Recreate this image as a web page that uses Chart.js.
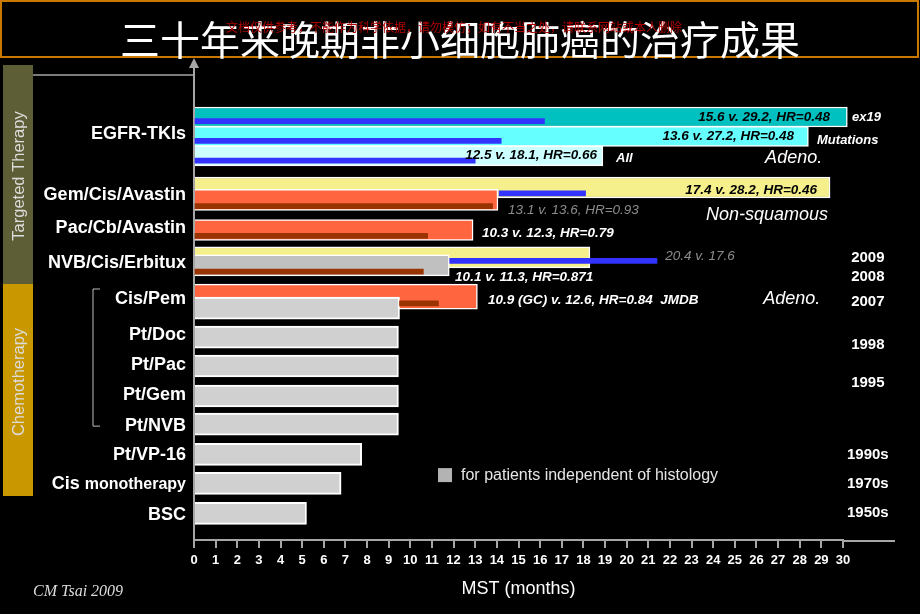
<!DOCTYPE html>
<html>
<head>
<meta charset="utf-8">
<script src="https://cdn.jsdelivr.net/npm/chart.js@4.4.0/dist/chart.umd.min.js"></script>
<style>
  html, body { margin: 0; padding: 0; background: #000; }
</style>
</head>
<body>
<canvas id="mst" width="920" height="614"></canvas>
<script>
// row labels on the left axis and where they sit on the (row) scale
const rowLabels = ['EGFR-TKIs', 'Gem/Cis/Avastin', 'Pac/Cb/Avastin', 'NVB/Cis/Erbitux', 'Cis/Pem',
  'Pt/Doc', 'Pt/Pac', 'Pt/Gem', 'Pt/NVB', 'Pt/VP-16', 'Cis monotherapy', 'BSC'];
const rowSlots = [2.41, 4.47, 5.59, 6.78, 8.0, 9.22, 10.24, 11.25, 12.31, 13.29, 14.27, 15.32];

// years on the right
const years = ['2009', '2008', '2007', '1998', '1995', '1990s', '1970s', '1950s'];
const yearSlots = [6.61, 7.25, 8.1, 9.56, 10.85, 13.29, 14.27, 15.25];

// EGFR-TKI (ex19 / mutations / all) and their chemo comparators
const egfrSlots = [1.83, 2.49, 3.15];
const egfrTki = [30.2, 28.4, 18.9];
const egfrCtrlSlots = [1.97, 2.64, 3.31];
const egfrCtrl = [16.2, 14.2, 13.0];

// add-on arms (Gem/Cis/Avastin, NVB/Cis/Erbitux)
const addOnSlots = [4.22, 6.59];
const addOn = [29.4, 18.3];
const addOnCmpSlots = [4.42, 6.71];
const addOnCmp = [[14.1, 18.1], [11.8, 21.4]];

// control arms
const ctrlSlots = [4.64, 5.66, 6.86];
const ctrl = [14.05, 12.9, 11.8];
const pemSlots = [7.92];
const pem = [13.1];
const darkSlots = [4.85, 5.86, 7.07, 8.15];
const dark = [13.8, 10.8, 10.6, [9.5, 11.3]];

// regimens for patients independent of histology
const chemoSlots = [8.31, 9.29, 10.27, 11.29, 12.24, 13.27, 14.25, 15.27];
const chemo = [9.5, 9.45, 9.45, 9.45, 9.45, 7.75, 6.8, 5.2];

const titleText = '三十年来晚期非小细胞肺癌的治疗成果';
const watermark = '文档仅供参考，不能作为科学依据，请勿模仿；如有不当之处，请联系网站或本人删除';

const notes = [
  { t: '15.6 v. 29.2, HR=0.48', x: 29.4, y: 1.83, align: 'right', kind: 'dark' },
  { t: 'ex19', x: 30.42, y: 1.83, kind: 'tag' },
  { t: '13.6 v. 27.2, HR=0.48', x: 27.74, y: 2.47, align: 'right', kind: 'dark' },
  { t: 'Mutations', x: 28.8, y: 2.64, kind: 'tag' },
  { t: '12.5 v. 18.1, HR=0.66', x: 18.63, y: 3.12, align: 'right', kind: 'dark' },
  { t: 'All', x: 19.51, y: 3.22, kind: 'tag' },
  { t: 'Adeno.', x: 26.4, y: 3.22, kind: 'big' },
  { t: '17.4 v. 28.2, HR=0.46', x: 28.8, y: 4.31, align: 'right', kind: 'dark' },
  { t: '13.1 v. 13.6, HR=0.93', x: 14.52, y: 4.98, kind: 'faint' },
  { t: 'Non-squamous', x: 23.67, y: 5.15, kind: 'big' },
  { t: '10.3 v. 12.3, HR=0.79', x: 13.31, y: 5.76, kind: 'light' },
  { t: '20.4 v. 17.6', x: 21.78, y: 6.54, kind: 'faint' },
  { t: '10.1 v. 11.3, HR=0.871', x: 12.07, y: 7.25, kind: 'light' },
  { t: '10.9 (GC) v. 12.6, HR=0.84  JMDB', x: 13.59, y: 8.03, kind: 'light' },
  { t: 'Adeno.', x: 26.31, y: 8.0, kind: 'big' }
];

const SANS = '"Liberation Sans", Arial, sans-serif';
const noteStyle = {
  dark: ['italic bold 13.5px ' + SANS, '#000'],
  tag: ['italic bold 13px ' + SANS, '#fff'],
  big: ['italic 18px ' + SANS, '#fff'],
  faint: ['italic 13.5px ' + SANS, '#8c8c8c'],
  light: ['italic bold 13.5px ' + SANS, '#fff']
};
const AXIS = '#a6a6a6';

function pts(slots, vals) {
  return slots.map((s, i) => ({ y: s, x: vals[i] }));
}

function barSet(label, data, color, thickness, order, border) {
  return {
    label: label,
    data: data,
    backgroundColor: color,
    borderColor: '#ffffff',
    borderWidth: border,
    barThickness: thickness,
    grouped: false,
    order: order,
    clip: false,
    xAxisID: 'x',
    yAxisID: 'y'
  };
}

const decor = {
  id: 'decor',
  beforeDraw(chart) {
    const c = chart.ctx;
    c.save();
    c.fillStyle = '#000';
    c.fillRect(0, 0, chart.width, chart.height);

    // title box
    c.strokeStyle = '#c87800';
    c.lineWidth = 2;
    c.strokeRect(1, 1, chart.width - 3, 56);
    c.textAlign = 'center';
    c.textBaseline = 'middle';
    c.fillStyle = '#fff';
    c.font = '40px "Noto Sans CJK SC", sans-serif';
    c.fillText(titleText, 460, 40);
    c.fillStyle = '#b00000';
    c.font = '12px "Noto Sans CJK SC", sans-serif';
    c.fillText(watermark, 454, 27.5);

    // side panels
    c.fillStyle = '#5d5d36';
    c.fillRect(3, 65, 30, 219);
    c.fillStyle = '#c99700';
    c.fillRect(3, 284, 30, 212);
    c.fillStyle = '#dcdcdc';
    c.font = '16.5px ' + SANS;
    c.save();
    c.translate(19, 176);
    c.rotate(-Math.PI / 2);
    c.fillText('Targeted Therapy', 0, 0);
    c.restore();
    c.save();
    c.translate(19, 382);
    c.rotate(-Math.PI / 2);
    c.fillText('Chemotherapy', 0, 0);
    c.restore();

    // thin rule under the title
    c.strokeStyle = AXIS;
    c.lineWidth = 1.5;
    c.beginPath();
    c.moveTo(33, 75);
    c.lineTo(chart.chartArea.left, 75);
    c.stroke();
    c.restore();
  },
  afterDraw(chart) {
    const c = chart.ctx;
    const xs = chart.scales.x, ys = chart.scales.y;
    const area = chart.chartArea;
    c.save();

    // axis arrow and axis extension
    c.fillStyle = AXIS;
    c.beginPath();
    c.moveTo(area.left, area.top - 5);
    c.lineTo(area.left - 5, area.top + 5);
    c.lineTo(area.left + 5, area.top + 5);
    c.closePath();
    c.fill();
    c.strokeStyle = AXIS;
    c.lineWidth = 2;
    c.beginPath();
    c.moveTo(area.right, area.bottom + 1);
    c.lineTo(area.right + 52, area.bottom + 1);
    c.stroke();

    // bracket for the platinum doublets
    const bTop = ys.getPixelForValue(rowSlots[4]) - 10;
    const bBot = ys.getPixelForValue(rowSlots[8]);
    c.strokeStyle = '#bdbdbd';
    c.lineWidth = 1;
    c.beginPath();
    c.moveTo(100, bTop);
    c.lineTo(93, bTop);
    c.lineTo(93, bBot);
    c.lineTo(100, bBot);
    c.stroke();

    // mixed-size label
    const cy = ys.getPixelForValue(rowSlots[10]);
    const rx = area.left - 8;
    c.fillStyle = '#fff';
    c.textBaseline = 'middle';
    c.textAlign = 'right';
    c.font = 'bold 16px ' + SANS;
    const w = c.measureText('monotherapy').width;
    c.fillText('monotherapy', rx, cy + 1);
    c.font = 'bold 18px ' + SANS;
    c.fillText('Cis ', rx - w, cy);

    // annotations
    notes.forEach(n => {
      const st = noteStyle[n.kind];
      c.font = st[0];
      c.fillStyle = st[1];
      c.textAlign = n.align || 'left';
      c.fillText(n.t, xs.getPixelForValue(n.x), ys.getPixelForValue(n.y));
    });

    // legend
    const lx = xs.getPixelForValue(11.28), ly = ys.getPixelForValue(13.97);
    c.fillStyle = '#b3b3b3';
    c.fillRect(lx, ly - 7, 14, 14);
    c.fillStyle = '#e6e6e6';
    c.textAlign = 'left';
    c.font = '16px ' + SANS;
    c.fillText('for patients independent of histology', lx + 23, ly);

    // credit
    c.fillStyle = '#dddddd';
    c.font = 'italic 16px "Liberation Serif", "Times New Roman", serif';
    c.fillText('CM Tsai 2009', 33, 592);
    c.restore();
  }
};

const ctx = document.getElementById('mst').getContext('2d');
const mstChart = new Chart(ctx, {
  type: 'bar',
  data: {
    datasets: [
      barSet('EGFR-TKI', pts(egfrSlots, egfrTki), ['#00c0c0', '#66ffff', '#ccffff'], 20, 2, 1.5),
      barSet('EGFR control', pts(egfrCtrlSlots, egfrCtrl), '#3333ff', 5, 1, 0),
      barSet('Add-on', pts(addOnSlots, addOn), '#f5f08c', 21, 4, 1.5),
      barSet('Add-on comparison', pts(addOnCmpSlots, addOnCmp), '#3333ff', 5, 3, 0),
      barSet('Control', pts(ctrlSlots, ctrl), ['#ff6640', '#ff6640', '#c0c0c0'], 21, 2, 1.5),
      barSet('Cis/Gem', pts(pemSlots, pem), '#ff6640', 25, 4, 1.5),
      barSet('Control dark', pts(darkSlots, dark), '#993300', 5, 1, 0),
      barSet('for patients independent of histology', pts(chemoSlots, chemo), '#d0d0d0', 22, 2, 2)
    ]
  },
  options: {
    indexAxis: 'y',
    responsive: false,
    animation: false,
    layout: { padding: { top: 63, right: 0, bottom: 0, left: 0 } },
    plugins: {
      legend: { display: false },
      tooltip: { enabled: false }
    },
    scales: {
      x: {
        type: 'linear',
        position: 'bottom',
        min: 0,
        max: 30,
        offset: false,
        ticks: {
          stepSize: 1,
          autoSkip: false,
          maxRotation: 0,
          minRotation: 0,
          padding: 5,
          color: '#ffffff',
          font: { family: '"Liberation Sans Narrow", "Liberation Sans", Arial, sans-serif', size: 13, weight: 'bold' }
        },
        grid: { drawOnChartArea: false, drawTicks: true, tickLength: 8, color: AXIS, lineWidth: 2 },
        border: { display: true, color: AXIS, width: 2 },
        title: {
          display: true,
          text: 'MST (months)',
          color: '#ffffff',
          font: { family: SANS, size: 18 },
          padding: { top: 0, bottom: 14 }
        },
        afterFit: s => { s.height = 74; }
      },
      y: {
        type: 'linear',
        position: 'left',
        min: 0,
        max: 16.17,
        reverse: true,
        offset: false,
        afterBuildTicks: s => { s.ticks = rowSlots.map(v => ({ value: v })); },
        ticks: {
          autoSkip: false,
          padding: 8,
          color: '#ffffff',
          font: { family: SANS, size: 18, weight: 'bold' },
          callback: (v, i) => rowLabels[i] === 'Cis monotherapy' ? '' : rowLabels[i]
        },
        grid: { display: false, drawTicks: false, offset: false },
        border: { display: true, color: AXIS, width: 2 },
        afterFit: s => { s.width = 194; }
      },
      yr: {
        type: 'linear',
        position: 'right',
        min: 0,
        max: 16.17,
        reverse: true,
        offset: false,
        afterBuildTicks: s => { s.ticks = yearSlots.map(v => ({ value: v })); },
        ticks: {
          autoSkip: false,
          padding: 4,
          crossAlign: 'center',
          color: '#ffffff',
          font: { family: SANS, size: 15, weight: 'bold' },
          callback: (v, i) => years[i]
        },
        grid: { display: false, drawTicks: false, offset: false },
        border: { display: false },
        afterFit: s => { s.width = 77; }
      }
    }
  },
  plugins: [decor]
});
</script>
</body>
</html>
